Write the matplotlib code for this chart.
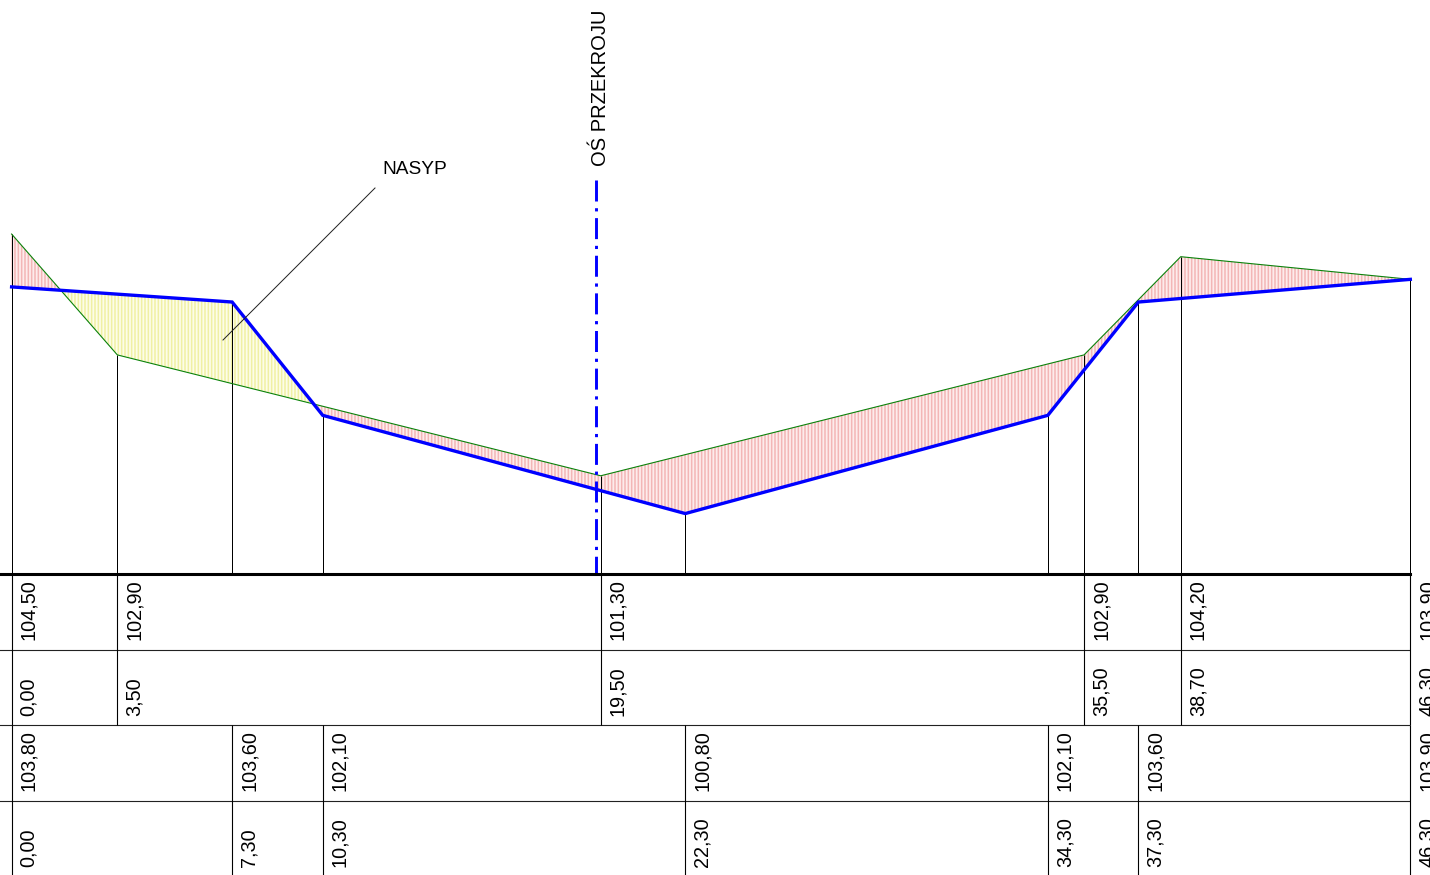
import matplotlib
matplotlib.use('Agg')
import matplotlib.pyplot as plt
import numpy as np
from matplotlib.lines import Line2D

plt.rcParams['font.family'] = ['Liberation Sans', 'DejaVu Sans']
plt.rcParams['hatch.linewidth'] = 1.1

# terrain (green) and design (blue) profiles, metres
GROUND_X = [0.00, 3.50, 19.50, 35.50, 38.70, 46.30]
GROUND_Z = [104.50, 102.90, 101.30, 102.90, 104.20, 103.90]
DESIGN_X = [0.00, 7.30, 10.30, 22.30, 34.30, 37.30, 46.30]
DESIGN_Z = [103.80, 103.60, 102.10, 100.80, 102.10, 103.60, 103.90]

GROUND_X_LABELS = ['0,00', '3,50', '19,50', '35,50', '38,70', '46,30']
GROUND_Z_LABELS = ['104,50', '102,90', '101,30', '102,90', '104,20', '103,90']
DESIGN_X_LABELS = ['0,00', '7,30', '10,30', '22,30', '34,30', '37,30', '46,30']
DESIGN_Z_LABELS = ['103,80', '103,60', '102,10', '100,80', '102,10', '103,60',
                   '103,90']

WIDTH, HEIGHT = 1430, 875
X0_PX = 11.6
PX_PER_M = 30.21
PX_PER_M_Z = 75.55
BASE_PX = 574
ROW_PX = 75.5
AXIS_X = 19.36
AXIS_TOP = 105.22
FONT = 14.3


def px(x, y):
    """Pixel position to figure fraction."""
    return x / WIDTH, 1 - y / HEIGHT


def _profile(axes):
    """Draw the cut and fill shading, both profiles and the drop lines."""
    ground_x = np.array(GROUND_X)
    ground_z = np.array(GROUND_Z)
    design_x = np.array(DESIGN_X)
    design_z = np.array(DESIGN_Z)

    stations = np.union1d(ground_x, design_x)
    ground = np.interp(stations, ground_x, ground_z)
    design = np.interp(stations, design_x, design_z)

    axes.fill_between(stations, ground, design, where=ground >= design,
                      interpolate=True, facecolor='#fdecec',
                      edgecolor='#f3b6b6', hatch='|' * 5, linewidth=0)
    axes.fill_between(stations, ground, design, where=ground <= design,
                      interpolate=True, facecolor='#fdfde8',
                      edgecolor='#f0f0a4', hatch='|' * 5, linewidth=0)

    axes.vlines(ground_x, 100, ground_z, color='black', linewidth=0.72)
    axes.vlines(design_x, 100, design_z, color='black', linewidth=0.72)
    axes.plot(ground_x, ground_z, color='#0a820a', linewidth=0.8)
    axes.plot(design_x, design_z, color='#0000ff', linewidth=2.4,
              solid_joinstyle='miter')
    axes.plot([AXIS_X, AXIS_X], [AXIS_TOP, 100], color='#0000ff',
              linewidth=2.1, dashes=(7.2, 2.3, 1.1, 2.3))


def _table(axes):
    """Draw the four rows of levels and distances under the profile."""
    axes.hlines([1, 2, 3], -1, GROUND_X[-1], color='#222222', linewidth=0.8)
    axes.vlines(GROUND_X, 0, 2, color='black', linewidth=0.8)
    axes.vlines(DESIGN_X, 2, 4, color='black', linewidth=0.8)

    rows = [(GROUND_X, GROUND_Z_LABELS, 1), (GROUND_X, GROUND_X_LABELS, 2),
            (DESIGN_X, DESIGN_Z_LABELS, 3), (DESIGN_X, DESIGN_X_LABELS, 4)]
    for xs, labels, row in rows:
        for x, label in zip(xs, labels):
            axes.text(x + 0.25, row - 0.12, label, rotation=90, ha='left',
                      va='bottom', fontsize=FONT, color='black')
    axes.plot([-1, GROUND_X[-1]], [0, 0], color='black', linewidth=2.2,
              clip_on=False, zorder=5)


fig = plt.figure(figsize=(WIDTH / 100, HEIGHT / 100), dpi=100)
xlim = (-X0_PX / PX_PER_M, (WIDTH - X0_PX) / PX_PER_M)

main = fig.add_axes([0, 1 - BASE_PX / HEIGHT, 1, BASE_PX / HEIGHT])
main.set_xlim(xlim)
main.set_ylim(100, 100 + BASE_PX / PX_PER_M_Z)
main.axis('off')
_profile(main)

table = fig.add_axes([0, 0, 1, 1 - BASE_PX / HEIGHT])
table.set_xlim(xlim)
table.set_ylim((HEIGHT - BASE_PX) / ROW_PX, 0)
table.axis('off')
_table(table)

x, y = px(382, 170)
fig.text(x, y, 'NASYP', fontsize=13.8, ha='left', va='center', color='black')
x, y = px(600, 87.5)
fig.text(x, y, 'OŚ PRZEKROJU', fontsize=FONT + 0.2, rotation=90, ha='center',
         va='center', color='black')

start, end = px(375, 188), px(223, 340)
fig.add_artist(Line2D([start[0], end[0]], [start[1], end[1]],
                      color='#222222', linewidth=0.72))

fig.savefig('out.png', dpi=100)
